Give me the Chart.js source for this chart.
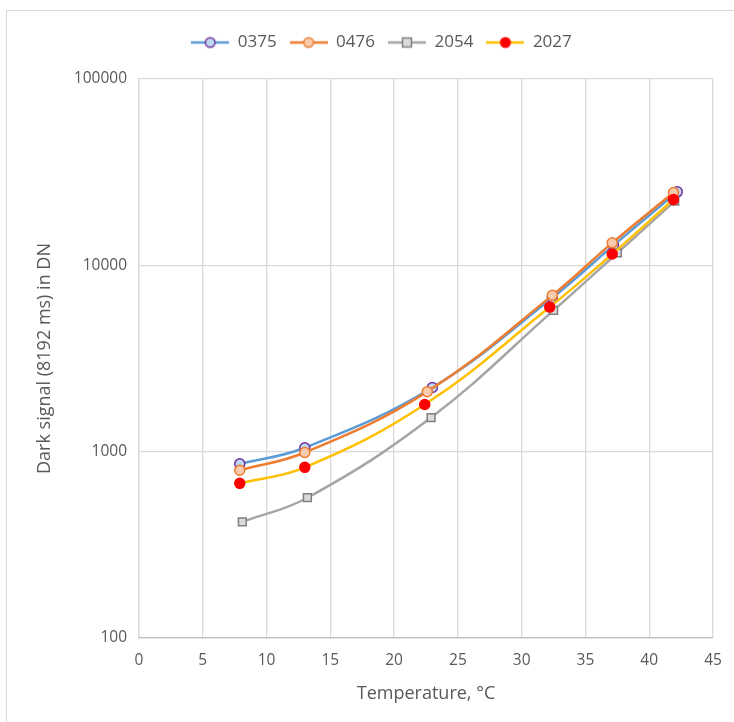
<!DOCTYPE html>
<html>
<head>
<meta charset="utf-8">
<script src="https://cdn.jsdelivr.net/npm/chart.js@4/dist/chart.umd.min.js"></script>
<style>
  html, body { margin: 0; padding: 0; background: #ffffff; overflow: hidden; }
  #frame {
    position: absolute; left: 6px; top: 10px;
    width: 784px; height: 760px;
    border: 1px solid #d9d9d9;
  }
  canvas { display: block; }
</style>
</head>
<body>
<div id="frame"><canvas id="chart" width="784" height="760"></canvas></div>
<script>
// Sensor labels
const seriesNames = ['0375', '0476', '2054', '2027'];

// Temperature (°C) of each measurement, per sensor
const temp0375 = [7.9, 13.0, 23.0, 32.4, 37.2, 42.2];
const temp0476 = [7.9, 13.0, 22.6, 32.4, 37.1, 41.9];
const temp2054 = [8.1, 13.2, 22.9, 32.5, 37.5, 42.0];
const temp2027 = [7.9, 13.0, 22.4, 32.2, 37.1, 41.9];

// Dark signal (DN) at 8192 ms exposure, per sensor
const dark0375 = [860, 1050, 2210, 6700, 12800, 24800];
const dark0476 = [795, 990, 2100, 6900, 13200, 24600];
const dark2054 = [420, 566, 1525, 5730, 11650, 22100];
const dark2027 = [676, 824, 1790, 5970, 11500, 22550];

// Axis ticks
const xTicks = [0, 5, 10, 15, 20, 25, 30, 35, 40, 45];
const yTicks = [100, 1000, 10000, 100000];

const styles = [
  { line: '#5b9bd5', border: '#7030a0', fill: '#bdd7ee', shape: 'circle' },
  { line: '#ed7d31', border: '#ed7d31', fill: '#f8cbad', shape: 'circle' },
  { line: '#a5a5a5', border: '#7f7f7f', fill: '#dbdbdb', shape: 'rect' },
  { line: '#ffc000', border: '#ff0000', fill: '#ff0000', shape: 'circle' }
];

const temps = [temp0375, temp0476, temp2054, temp2027];
const darks = [dark0375, dark0476, dark2054, dark2027];

// Legend swatch: a short line with the marker in its middle
function legendSwatch(st) {
  const c = document.createElement('canvas');
  c.width = 38; c.height = 14;
  const g = c.getContext('2d');
  g.strokeStyle = st.line; g.lineWidth = 2.5;
  g.beginPath(); g.moveTo(0, 7); g.lineTo(38, 7); g.stroke();
  g.fillStyle = st.fill; g.strokeStyle = st.border; g.lineWidth = 1.5;
  if (st.shape === 'rect') {
    g.fillRect(14.5, 2.5, 9, 9); g.strokeRect(14.5, 2.5, 9, 9);
  } else {
    g.beginPath(); g.arc(19, 7, 4.8, 0, Math.PI * 2); g.fill(); g.stroke();
  }
  return c;
}
const swatches = styles.map(legendSwatch);

const datasets = seriesNames.map((name, i) => ({
  label: name,
  data: temps[i].map((t, k) => ({ x: t, y: darks[i][k] })),
  borderColor: styles[i].line,
  borderWidth: 2.5,
  tension: 0.4,
  pointStyle: styles[i].shape,
  pointRadius: styles[i].shape === 'rect' ? 5.5 : 5,
  pointBorderWidth: 1.5,
  pointBorderColor: styles[i].border,
  pointBackgroundColor: styles[i].fill,
  order: seriesNames.length - i,
  fill: false
}));

// Extra room under the legend row, and a small rightward offset of the row
const legendSpacer = {
  id: 'legendSpacer',
  beforeInit(chart) {
    const legend = chart.legend;
    const fit = legend.fit;
    legend.fit = function () {
      fit.call(this);
      this.height += 18;
    };
    const draw = legend.draw;
    legend.draw = function () {
      const ctx = this.ctx;
      ctx.save();
      ctx.translate(8, 0);
      draw.call(this);
      ctx.restore();
    };
  }
};

const textColor = '#595959';
const fontFamily = '"Open Sans", "Noto Sans", sans-serif';

new Chart(document.getElementById('chart'), {
  type: 'line',
  data: { datasets },
  plugins: [legendSpacer],
  options: {
    responsive: false,
    animation: false,
    layout: { padding: { left: 27, right: 78, top: 10, bottom: 66 } },
    plugins: {
      tooltip: { enabled: false },
      legend: {
        position: 'top',
        labels: {
          usePointStyle: true,
          pointStyleWidth: 38,
          boxHeight: 14,
          padding: 13,
          color: textColor,
          font: { family: fontFamily, size: 17 },
          sort: (a, b) => a.datasetIndex - b.datasetIndex,
          generateLabels(chart) {
            const items = Chart.defaults.plugins.legend.labels.generateLabels(chart);
            items.forEach(it => { it.pointStyle = swatches[it.datasetIndex]; });
            return items;
          }
        }
      }
    },
    scales: {
      x: {
        type: 'linear',
        min: 0, max: 45,
        afterBuildTicks: s => { s.ticks = xTicks.map(v => ({ value: v })); },
        afterFit: s => { s.height = 67; },
        grid: { color: '#d9d9d9', lineWidth: 1.3, drawTicks: false },
        border: { color: '#bfbfbf', width: 1.3 },
        ticks: { color: textColor, padding: 13, font: { family: fontFamily, size: 15.5 } },
        title: {
          display: true, text: 'Temperature, °C', color: textColor,
          font: { family: fontFamily, size: 18 }, padding: { top: 4, bottom: 0 }
        }
      },
      y: {
        type: 'logarithmic',
        min: 100, max: 100000,
        afterBuildTicks: s => { s.ticks = yTicks.map(v => ({ value: v })); },
        afterFit: s => { s.width = 105; },
        grid: { color: '#d9d9d9', lineWidth: 1.3, drawTicks: false },
        border: { color: '#d9d9d9', width: 1.3 },
        ticks: {
          color: textColor, padding: 12, font: { family: fontFamily, size: 15.5 },
          callback: v => String(v)
        },
        title: {
          display: true, text: 'Dark signal (8192 ms) in DN', color: textColor,
          font: { family: fontFamily, size: 18 }, padding: { top: 0, bottom: 4 }
        }
      }
    }
  }
});
</script>
</body>
</html>
